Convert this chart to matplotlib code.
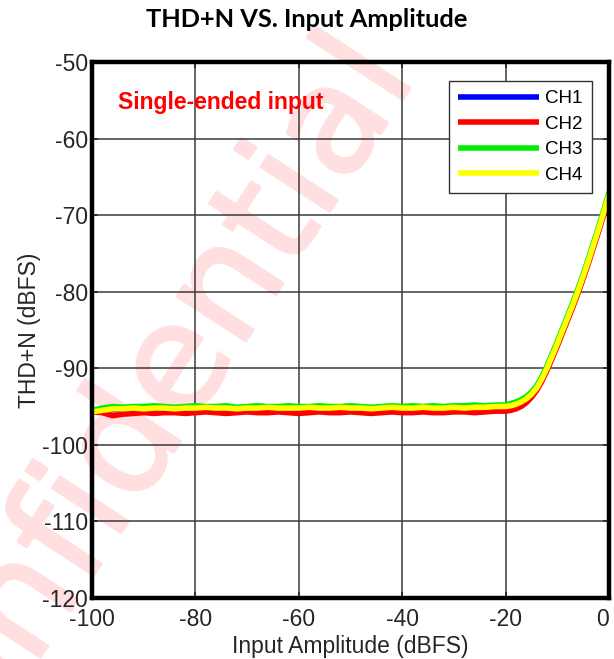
# Libraries
import matplotlib
matplotlib.use('Agg')
import matplotlib.pyplot as plt
import matplotlib.patheffects as pe

# Input amplitude (dBFS)
x = [-100, -98, -96, -94, -92, -90, -88, -86, -84, -82, -80, -78, -76, -74,
     -72, -70, -68, -66, -64, -62, -60, -58, -56, -54, -52, -50, -48, -46,
     -44, -42, -40, -38, -36, -34, -32, -30, -28, -26, -24, -22, -20,
     -19, -18, -17, -16, -15, -14, -13, -12, -11, -10, -9, -8, -7, -6, -5,
     -4, -3, -2, -1, 0]

# THD+N (dBFS) per channel
ch1 = [-95.6, -95.5, -95.4, -95.4, -95.3, -95.3, -95.3, -95.3, -95.3, -95.3,
       -95.3, -95.2, -95.3, -95.3, -95.3, -95.3, -95.3, -95.2, -95.3, -95.3,
       -95.3, -95.2, -95.3, -95.3, -95.2, -95.3, -95.3, -95.3, -95.3, -95.2,
       -95.3, -95.3, -95.2, -95.3, -95.3, -95.2, -95.2, -95.2, -95.2, -95.1,
       -95.1,
       -95.0, -94.8, -94.5, -94.1, -93.5, -92.7, -91.5, -90.1, -88.5, -86.9,
       -85.2, -83.5, -81.8, -80.0, -78.1, -76.1, -74.0, -71.9, -69.7, -67.4]
ch2 = [-95.7, -95.8, -96.2, -96.0, -95.9, -95.8, -95.9, -95.8, -95.8, -95.9,
       -95.8, -95.7, -95.8, -95.9, -95.8, -95.7, -95.8, -95.8, -95.7, -95.8,
       -95.9, -95.8, -95.7, -95.8, -95.8, -95.7, -95.8, -95.9, -95.8, -95.7,
       -95.8, -95.8, -95.7, -95.8, -95.8, -95.7, -95.7, -95.8, -95.7, -95.6,
       -95.6,
       -95.5, -95.3, -95.0, -94.5, -93.8, -92.9, -91.7, -90.3, -88.7, -87.1,
       -85.4, -83.7, -82.0, -80.2, -78.3, -76.3, -74.2, -72.1, -69.9, -67.6]
ch3 = [-95.5, -95.2, -95.0, -95.1, -95.0, -95.0, -94.9, -95.0, -95.1, -95.0,
       -94.9, -95.0, -95.0, -94.9, -95.1, -95.0, -94.9, -95.0, -95.0, -94.9,
       -95.0, -95.0, -94.9, -95.0, -95.0, -94.9, -95.0, -95.1, -95.0, -94.9,
       -95.0, -94.9, -95.0, -94.9, -95.0, -94.9, -94.9, -94.8, -94.9, -94.8,
       -94.8,
       -94.6, -94.4, -94.1, -93.7, -93.1, -92.3, -91.1, -89.7, -88.1, -86.5,
       -84.8, -83.1, -81.4, -79.6, -77.7, -75.7, -73.6, -71.5, -69.3, -67.0]
ch4 = [-95.7, -95.5, -95.3, -95.3, -95.2, -95.3, -95.2, -95.2, -95.3, -95.2,
       -95.2, -95.1, -95.2, -95.2, -95.3, -95.2, -95.2, -95.1, -95.2, -95.2,
       -95.2, -95.1, -95.2, -95.2, -95.1, -95.2, -95.2, -95.3, -95.2, -95.1,
       -95.2, -95.2, -95.1, -95.2, -95.2, -95.1, -95.2, -95.1, -95.1, -95.0,
       -95.0,
       -94.9, -94.7, -94.4, -94.0, -93.4, -92.6, -91.4, -90.0, -88.4, -86.8,
       -85.1, -83.4, -81.7, -79.9, -78.0, -76.0, -73.9, -71.8, -69.6, -67.3]

labels = ['CH1', 'CH2', 'CH3', 'CH4']
colors = ['#0000ff', '#ff0000', '#00ee00', '#ffff00']
xticks = [-100, -80, -60, -40, -20, 0]
yticks = [-120, -110, -100, -90, -80, -70, -60, -50]

plt.rcParams['font.family'] = ['Liberation Sans', 'DejaVu Sans']
plt.rcParams['axes.unicode_minus'] = False

# Create figure
fig = plt.figure(figsize=(6.14, 6.59), dpi=100)
ax = fig.add_axes([0.1498, 0.0926, 0.8421, 0.8134])
ax.patch.set_alpha(0)  # let the watermark show through

for y, lab, c in zip([ch1, ch2, ch3, ch4], labels, colors):
    ax.plot(x, y, color=c, lw=4, label=lab, solid_capstyle='butt')

ax.set_xlim(-100, 0)
ax.set_ylim(-120, -50)
ax.set_xticks(xticks)
ax.set_yticks(yticks)
ax.grid(True, color='#3a3a3a', lw=1.1)
ax.set_axisbelow(True)
ax.tick_params(direction='in', length=4, width=1.2, labelsize=16.5,
               colors='#262626', pad=3)
ax.tick_params(axis='x', pad=7)
ax.tick_params(axis='both', which='both', right=True, top=True)
for s in ax.spines.values():
    s.set_linewidth(3.2)
    s.set_color('black')

# last x tick label pulled inside the figure
ax.get_xticklabels()[-1].set_horizontalalignment('right')

ax.set_xlabel('Input Amplitude (dBFS)', fontsize=16.5, color='#262626', labelpad=3)
ax.set_ylabel('THD+N (dBFS)', fontsize=16.5, color='#262626', labelpad=1)

fig.suptitle('THD+N VS. Input Amplitude', x=0.5, y=0.988, fontsize=18.3,
             fontweight='bold', family='Lato')

ax.text(-95, -56.1, 'Single-ended input', color='red', fontsize=16.5,
        fontweight='bold', va='baseline')

leg = ax.legend(loc='upper right', bbox_to_anchor=(0.967, 0.965),
                borderaxespad=0, fontsize=13.5, handlelength=4.3,
                handletextpad=0.35, labelspacing=0.45, fancybox=False,
                framealpha=1, edgecolor='#333333', borderpad=0.5)
leg.get_frame().set_linewidth(1.0)
for line in leg.get_lines():
    line.set_linewidth(4)

# Watermark, drawn under the axes
wm = fig.text(0.28, 0.31, 'Confidential', fontsize=108, color='#ffdfdf',
              rotation=57, rotation_mode='anchor', ha='center', va='baseline',
              family='DejaVu Sans', zorder=-1)
wm.set_path_effects([pe.withStroke(linewidth=2, foreground='#ffdfdf')])

fig.savefig('out.png', dpi=100)
